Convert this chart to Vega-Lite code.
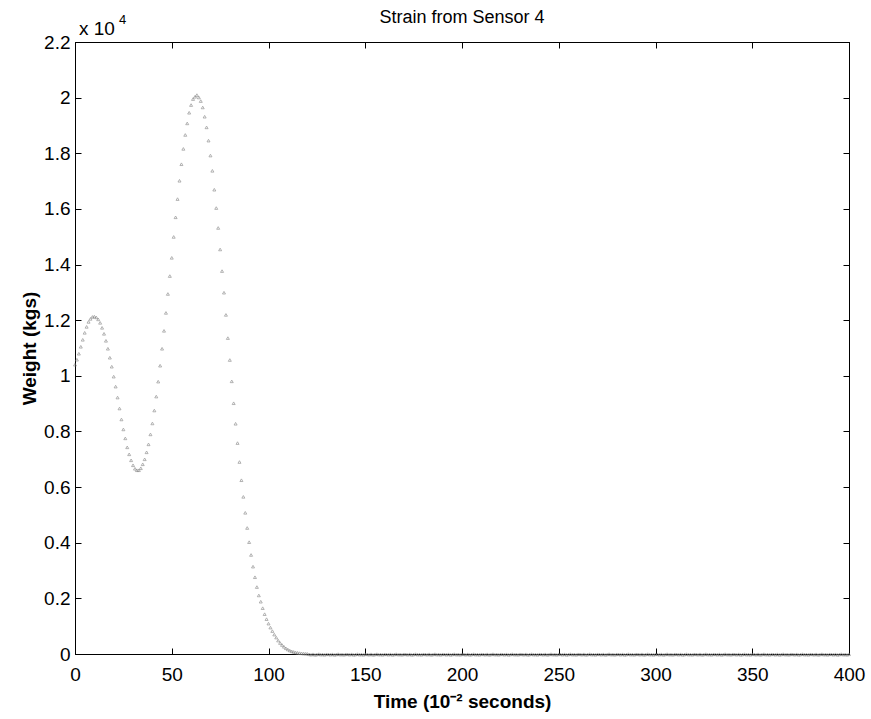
{
  "$schema": "https://vega.github.io/schema/vega-lite/v6.json",
  "width": 774,
  "height": 612,
  "autosize": {"type": "none"},
  "padding": {"left": 75, "top": 42, "right": 22, "bottom": 65},
  "background": "white",
  "title": {"text": "Strain from Sensor 4", "font": "Liberation Sans", "fontSize": 18, "fontWeight": "normal", "color": "black", "anchor": "middle", "offset": -13},
  "config": {
    "view": {"stroke": "black", "strokeWidth": 1},
    "axis": {"domainColor": "black", "tickColor": "black", "labelColor": "black", "labelFont": "Liberation Sans", "labelFontSize": 19, "titleFont": "Liberation Sans", "titleFontSize": 19, "titleFontWeight": "bold", "titleColor": "black", "grid": false, "tickSize": -6, "domainWidth": 1, "tickWidth": 1}
  },
  "datasets": {
    "strain": [
      {"t":0,"w":10400},{"t":1,"w":10579},{"t":2,"w":10794},{"t":3,"w":11044},{"t":4,"w":11295},{"t":5,"w":11546},{"t":6,"w":11760},{"t":7,"w":11939},{"t":8,"w":12047},{"t":9,"w":12118},
      {"t":10,"w":12129},{"t":11,"w":12100},{"t":12,"w":12029},{"t":13,"w":11904},{"t":14,"w":11725},{"t":15,"w":11510},{"t":16,"w":11259},{"t":17,"w":10973},{"t":18,"w":10651},{"t":19,"w":10328},
      {"t":20,"w":9970},{"t":21,"w":9612},{"t":22,"w":9219},{"t":23,"w":8825},{"t":24,"w":8431},{"t":25,"w":8073},{"t":26,"w":7751},{"t":27,"w":7429},{"t":28,"w":7178},{"t":29,"w":6963},
      {"t":30,"w":6784},{"t":31,"w":6659},{"t":32,"w":6605},{"t":33,"w":6605},{"t":34,"w":6677},{"t":35,"w":6820},{"t":36,"w":6999},{"t":37,"w":7250},{"t":38,"w":7536},{"t":39,"w":7894},
      {"t":40,"w":8288},{"t":41,"w":8753},{"t":42,"w":9254},{"t":43,"w":9791},{"t":44,"w":10364},{"t":45,"w":10973},{"t":46,"w":11617},{"t":47,"w":12262},{"t":48,"w":12942},{"t":49,"w":13586},
      {"t":50,"w":14241},{"t":51,"w":14993},{"t":52,"w":15698},{"t":53,"w":16353},{"t":54,"w":17012},{"t":55,"w":17606},{"t":56,"w":18158},{"t":57,"w":18659},{"t":58,"w":19074},{"t":59,"w":19457},
      {"t":60,"w":19733},{"t":61,"w":19948},{"t":62,"w":20030},{"t":63,"w":20091},{"t":64,"w":20005},{"t":65,"w":19876},{"t":66,"w":19647},{"t":67,"w":19314},{"t":68,"w":18931},{"t":69,"w":18455},
      {"t":70,"w":17918},{"t":71,"w":17370},{"t":72,"w":16690},{"t":73,"w":16031},{"t":74,"w":15315},{"t":75,"w":14542},{"t":76,"w":13765},{"t":77,"w":12988},{"t":78,"w":12190},{"t":79,"w":11356},
      {"t":80,"w":10568},{"t":81,"w":9802},{"t":82,"w":9014},{"t":83,"w":8277},{"t":84,"w":7582},{"t":85,"w":6902},{"t":86,"w":6247},{"t":87,"w":5649},{"t":88,"w":5076},{"t":89,"w":4530},
      {"t":90,"w":4020},{"t":91,"w":3560},{"t":92,"w":3140},{"t":93,"w":2760},{"t":94,"w":2406},{"t":95,"w":2105},{"t":96,"w":1880},{"t":97,"w":1647},{"t":98,"w":1432},{"t":99,"w":1253},
      {"t":100,"w":1092},{"t":101,"w":949},{"t":102,"w":823},{"t":103,"w":698},{"t":104,"w":591},{"t":105,"w":483},{"t":106,"w":394},{"t":107,"w":322},{"t":108,"w":258},{"t":109,"w":204},
      {"t":110,"w":161},{"t":111,"w":125},{"t":112,"w":97},{"t":113,"w":75},{"t":114,"w":57},{"t":115,"w":43},{"t":116,"w":32},{"t":117,"w":24},{"t":118,"w":17},{"t":119,"w":12},
      {"t":120,"w":8},{"t":121,"w":-12},{"t":122,"w":-25},{"t":123,"w":-8},{"t":124,"w":-30},{"t":125,"w":-18},{"t":126,"w":-5},{"t":127,"w":-22},{"t":128,"w":-15},{"t":129,"w":-28},
      {"t":130,"w":-10},{"t":131,"w":-12},{"t":132,"w":-25},{"t":133,"w":-8},{"t":134,"w":-30},{"t":135,"w":-18},{"t":136,"w":-5},{"t":137,"w":-22},{"t":138,"w":-15},{"t":139,"w":-28},
      {"t":140,"w":-10},{"t":141,"w":-12},{"t":142,"w":-25},{"t":143,"w":-8},{"t":144,"w":-30},{"t":145,"w":-18},{"t":146,"w":-5},{"t":147,"w":-22},{"t":148,"w":-15},{"t":149,"w":-28},
      {"t":150,"w":-10},{"t":151,"w":-12},{"t":152,"w":-25},{"t":153,"w":-8},{"t":154,"w":-30},{"t":155,"w":-18},{"t":156,"w":-5},{"t":157,"w":-22},{"t":158,"w":-15},{"t":159,"w":-28},
      {"t":160,"w":-10},{"t":161,"w":-12},{"t":162,"w":-25},{"t":163,"w":-8},{"t":164,"w":-30},{"t":165,"w":-18},{"t":166,"w":-5},{"t":167,"w":-22},{"t":168,"w":-15},{"t":169,"w":-28},
      {"t":170,"w":-10},{"t":171,"w":-12},{"t":172,"w":-25},{"t":173,"w":-8},{"t":174,"w":-30},{"t":175,"w":-18},{"t":176,"w":-5},{"t":177,"w":-22},{"t":178,"w":-15},{"t":179,"w":-28},
      {"t":180,"w":-10},{"t":181,"w":-12},{"t":182,"w":-25},{"t":183,"w":-8},{"t":184,"w":-30},{"t":185,"w":-18},{"t":186,"w":-5},{"t":187,"w":-22},{"t":188,"w":-15},{"t":189,"w":-28},
      {"t":190,"w":-10},{"t":191,"w":-12},{"t":192,"w":-25},{"t":193,"w":-8},{"t":194,"w":-30},{"t":195,"w":-18},{"t":196,"w":-5},{"t":197,"w":-22},{"t":198,"w":-15},{"t":199,"w":-28},
      {"t":200,"w":-10},{"t":201,"w":-12},{"t":202,"w":-25},{"t":203,"w":-8},{"t":204,"w":-30},{"t":205,"w":-18},{"t":206,"w":-5},{"t":207,"w":-22},{"t":208,"w":-15},{"t":209,"w":-28},
      {"t":210,"w":-10},{"t":211,"w":-12},{"t":212,"w":-25},{"t":213,"w":-8},{"t":214,"w":-30},{"t":215,"w":-18},{"t":216,"w":-5},{"t":217,"w":-22},{"t":218,"w":-15},{"t":219,"w":-28},
      {"t":220,"w":-10},{"t":221,"w":-12},{"t":222,"w":-25},{"t":223,"w":-8},{"t":224,"w":-30},{"t":225,"w":-18},{"t":226,"w":-5},{"t":227,"w":-22},{"t":228,"w":-15},{"t":229,"w":-28},
      {"t":230,"w":-10},{"t":231,"w":-12},{"t":232,"w":-25},{"t":233,"w":-8},{"t":234,"w":-30},{"t":235,"w":-18},{"t":236,"w":-5},{"t":237,"w":-22},{"t":238,"w":-15},{"t":239,"w":-28},
      {"t":240,"w":-10},{"t":241,"w":-12},{"t":242,"w":-25},{"t":243,"w":-8},{"t":244,"w":-30},{"t":245,"w":-18},{"t":246,"w":-5},{"t":247,"w":-22},{"t":248,"w":-15},{"t":249,"w":-28},
      {"t":250,"w":-10},{"t":251,"w":-12},{"t":252,"w":-25},{"t":253,"w":-8},{"t":254,"w":-30},{"t":255,"w":-18},{"t":256,"w":-5},{"t":257,"w":-22},{"t":258,"w":-15},{"t":259,"w":-28},
      {"t":260,"w":-10},{"t":261,"w":-12},{"t":262,"w":-25},{"t":263,"w":-8},{"t":264,"w":-30},{"t":265,"w":-18},{"t":266,"w":-5},{"t":267,"w":-22},{"t":268,"w":-15},{"t":269,"w":-28},
      {"t":270,"w":-10},{"t":271,"w":-12},{"t":272,"w":-25},{"t":273,"w":-8},{"t":274,"w":-30},{"t":275,"w":-18},{"t":276,"w":-5},{"t":277,"w":-22},{"t":278,"w":-15},{"t":279,"w":-28},
      {"t":280,"w":-10},{"t":281,"w":-12},{"t":282,"w":-25},{"t":283,"w":-8},{"t":284,"w":-30},{"t":285,"w":-18},{"t":286,"w":-5},{"t":287,"w":-22},{"t":288,"w":-15},{"t":289,"w":-28},
      {"t":290,"w":-10},{"t":291,"w":-12},{"t":292,"w":-25},{"t":293,"w":-8},{"t":294,"w":-30},{"t":295,"w":-18},{"t":296,"w":-5},{"t":297,"w":-22},{"t":298,"w":-15},{"t":299,"w":-28},
      {"t":300,"w":-10},{"t":301,"w":-12},{"t":302,"w":-25},{"t":303,"w":-8},{"t":304,"w":-30},{"t":305,"w":-18},{"t":306,"w":-5},{"t":307,"w":-22},{"t":308,"w":-15},{"t":309,"w":-28},
      {"t":310,"w":-10},{"t":311,"w":-12},{"t":312,"w":-25},{"t":313,"w":-8},{"t":314,"w":-30},{"t":315,"w":-18},{"t":316,"w":-5},{"t":317,"w":-22},{"t":318,"w":-15},{"t":319,"w":-28},
      {"t":320,"w":-10},{"t":321,"w":-12},{"t":322,"w":-25},{"t":323,"w":-8},{"t":324,"w":-30},{"t":325,"w":-18},{"t":326,"w":-5},{"t":327,"w":-22},{"t":328,"w":-15},{"t":329,"w":-28},
      {"t":330,"w":-10},{"t":331,"w":-12},{"t":332,"w":-25},{"t":333,"w":-8},{"t":334,"w":-30},{"t":335,"w":-18},{"t":336,"w":-5},{"t":337,"w":-22},{"t":338,"w":-15},{"t":339,"w":-28},
      {"t":340,"w":-10},{"t":341,"w":-12},{"t":342,"w":-25},{"t":343,"w":-8},{"t":344,"w":-30},{"t":345,"w":-18},{"t":346,"w":-5},{"t":347,"w":-22},{"t":348,"w":-15},{"t":349,"w":-28},
      {"t":350,"w":-10},{"t":351,"w":-12},{"t":352,"w":-25},{"t":353,"w":-8},{"t":354,"w":-30},{"t":355,"w":-18},{"t":356,"w":-5},{"t":357,"w":-22},{"t":358,"w":-15},{"t":359,"w":-28},
      {"t":360,"w":-10},{"t":361,"w":-12},{"t":362,"w":-25},{"t":363,"w":-8},{"t":364,"w":-30},{"t":365,"w":-18},{"t":366,"w":-5},{"t":367,"w":-22},{"t":368,"w":-15},{"t":369,"w":-28},
      {"t":370,"w":-10},{"t":371,"w":-12},{"t":372,"w":-25},{"t":373,"w":-8},{"t":374,"w":-30},{"t":375,"w":-18},{"t":376,"w":-5},{"t":377,"w":-22},{"t":378,"w":-15},{"t":379,"w":-28},
      {"t":380,"w":-10},{"t":381,"w":-12},{"t":382,"w":-25},{"t":383,"w":-8},{"t":384,"w":-30},{"t":385,"w":-18},{"t":386,"w":-5},{"t":387,"w":-22},{"t":388,"w":-15},{"t":389,"w":-28},
      {"t":390,"w":-10},{"t":391,"w":-12},{"t":392,"w":-25},{"t":393,"w":-8},{"t":394,"w":-30},{"t":395,"w":-18},{"t":396,"w":-5},{"t":397,"w":-22},{"t":398,"w":-15},{"t":399,"w":-28},
      {"t":400,"w":-10}
    ]
  },
  "layer": [
    {
      "data": {"name": "strain"},
      "mark": {"type": "point", "shape": "triangle-up", "size": 9, "filled": false, "color": "#7a7a7a", "strokeWidth": 0.8},
      "encoding": {
        "x": {"field": "t", "type": "quantitative", "scale": {"domain": [0, 400], "nice": false, "zero": false},
              "axis": {"orient": "bottom", "values": [0, 50, 100, 150, 200, 250, 300, 350, 400], "labelPadding": 17, "title": "Time (10⁻² seconds)", "titlePadding": 8, "labelFlush": false}},
        "y": {"field": "w", "type": "quantitative", "scale": {"domain": [0, 22000], "nice": false, "zero": false},
              "axis": {"orient": "left", "values": [0, 2000, 4000, 6000, 8000, 10000, 12000, 14000, 16000, 18000, 20000, 22000], "labelExpr": "format(datum.value / 10000, '~g')", "labelPadding": 11, "title": "Weight (kgs)", "titlePadding": 4, "labelFlush": false}}
      }
    },
    {
      "data": {"name": "strain"},
      "mark": {"type": "point", "opacity": 0},
      "encoding": {
        "x": {"field": "t", "type": "quantitative", "axis": {"orient": "top", "values": [0, 50, 100, 150, 200, 250, 300, 350, 400], "labels": false, "title": null}},
        "y": {"field": "w", "type": "quantitative", "axis": {"orient": "right", "values": [0, 2000, 4000, 6000, 8000, 10000, 12000, 14000, 16000, 18000, 20000, 22000], "labels": false, "title": null}}
      }
    },
    {
      "data": {"values": [{"lab": "x 10"}]},
      "mark": {"type": "text", "font": "Liberation Sans", "fontSize": 19, "color": "black", "align": "left", "baseline": "alphabetic", "dx": 4, "dy": -7},
      "encoding": {
        "x": {"datum": 0, "type": "quantitative", "axis": null},
        "y": {"datum": 22000, "type": "quantitative", "axis": null},
        "text": {"field": "lab"}
      }
    },
    {
      "data": {"values": [{"lab": "4"}]},
      "mark": {"type": "text", "font": "Liberation Sans", "fontSize": 13, "color": "black", "align": "left", "baseline": "alphabetic", "dx": 44, "dy": -18},
      "encoding": {
        "x": {"datum": 0, "type": "quantitative", "axis": null},
        "y": {"datum": 22000, "type": "quantitative", "axis": null},
        "text": {"field": "lab"}
      }
    }
  ],
  "resolve": {"axis": {"x": "independent", "y": "independent"}}
}
